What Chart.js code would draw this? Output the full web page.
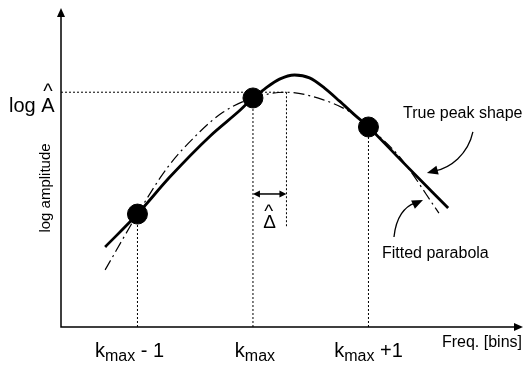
<!DOCTYPE html>
<html>
<head>
<meta charset="utf-8">
<script src="https://cdn.jsdelivr.net/npm/chart.js@4.4.1/dist/chart.umd.min.js"></script>
<style>
  body { margin: 0; background: #fff; }
  canvas { display: block; }
</style>
</head>
<body>
<canvas id="peakChart" width="526" height="367"></canvas>
<script>
// x in bins relative to k_max, y in (arbitrary) log amplitude units
var binTicks = [-1, 0, 1];
var binSuffix = [' - 1', '', ' +1'];
var sampleY = [3.54, 7.18, 6.27];

// true peak shape
var trueX = [-1.28, -1.0, -0.72, -0.37, -0.11, 0, 0.10, 0.23, 0.36, 0.49, 0.62, 0.75, 0.88, 1.0, 1.27, 1.69];
var trueY = [2.51, 3.54, 4.70, 5.99, 6.80, 7.18, 7.46, 7.77, 7.90, 7.81, 7.49, 7.08, 6.65, 6.27, 5.27, 3.73];

// fitted parabola
var fitX = [-1.28, -1.0, -0.74, -0.46, -0.26, 0, 0.29, 0.61, 0.84, 1.0, 1.27, 1.61];
var fitY = [1.79, 3.54, 5.0, 6.12, 6.73, 7.18, 7.36, 7.12, 6.74, 6.27, 5.33, 3.57];

var deltaHat = 0.29;
var logAHat = 7.36;
var deltaArrowY = 4.17;
var deltaGuideEnd = 3.15;

var xMin = -1.662, xMax = 2.338;
var yMin = 0, yMax = 10;

var FONT = '"Liberation Sans", Arial, Helvetica, sans-serif';

function xy(xs, ys) {
  return xs.map(function (x, i) { return { x: x, y: ys[i] }; });
}

var dotted = {
  borderColor: '#000',
  borderWidth: 1,
  borderDash: [2, 2],
  pointRadius: 0,
  showLine: true,
  fill: false,
  tension: 0
};

var datasets = [{
  label: 'samples',
  data: xy(binTicks, sampleY),
  pointRadius: 10,
  pointBackgroundColor: '#000',
  pointBorderColor: '#000',
  showLine: false
}, {
  label: 'True peak shape',
  data: xy(trueX, trueY),
  borderColor: '#000',
  borderWidth: 2.8,
  pointRadius: 0,
  showLine: true,
  cubicInterpolationMode: 'monotone'
}, {
  label: 'Fitted parabola',
  data: xy(fitX, fitY),
  borderColor: '#000',
  borderWidth: 1.2,
  borderDash: [11, 4, 2, 4],
  pointRadius: 0,
  showLine: true,
  cubicInterpolationMode: 'monotone'
}];

binTicks.forEach(function (b, i) {
  datasets.push(Object.assign({ data: [{ x: b, y: yMin }, { x: b, y: sampleY[i] }] }, dotted));
});
datasets.push(Object.assign({ data: [{ x: xMin, y: logAHat }, { x: deltaHat, y: logAHat }] }, dotted));
datasets.push(Object.assign({ data: [{ x: deltaHat, y: logAHat }, { x: deltaHat, y: deltaGuideEnd }] }, dotted));

function arrowHead(ctx, tx, ty, fx, fy, len, half) {
  var a = Math.atan2(ty - fy, tx - fx);
  ctx.beginPath();
  ctx.moveTo(tx, ty);
  ctx.lineTo(tx - len * Math.cos(a) + half * Math.sin(a), ty - len * Math.sin(a) - half * Math.cos(a));
  ctx.lineTo(tx - len * Math.cos(a) - half * Math.sin(a), ty - len * Math.sin(a) + half * Math.cos(a));
  ctx.closePath();
  ctx.fill();
}

var sketchPlugin = {
  id: 'sketch',
  beforeDatasetsDraw: function (chart) {
    var ctx = chart.ctx, a = chart.chartArea;
    ctx.save();
    ctx.strokeStyle = '#000';
    ctx.fillStyle = '#000';
    ctx.lineWidth = 1.5;
    ctx.beginPath();
    ctx.moveTo(a.left, a.top + 8);
    ctx.lineTo(a.left, a.bottom);
    ctx.lineTo(a.right - 8, a.bottom);
    ctx.stroke();
    arrowHead(ctx, a.left, a.top, a.left, a.top + 10, 9, 4);
    arrowHead(ctx, a.right, a.bottom, a.right - 10, a.bottom, 9, 4);
    ctx.restore();
  },
  afterDatasetsDraw: function (chart) {
    var ctx = chart.ctx, xs = chart.scales.x, ys = chart.scales.y;
    ctx.save();
    ctx.fillStyle = '#000';
    ctx.strokeStyle = '#000';
    ctx.textBaseline = 'alphabetic';

    // delta double arrow
    var y0 = ys.getPixelForValue(deltaArrowY);
    var xa = xs.getPixelForValue(0), xb = xs.getPixelForValue(deltaHat);
    ctx.lineWidth = 1.5;
    ctx.beginPath();
    ctx.moveTo(xa + 5, y0);
    ctx.lineTo(xb - 5, y0);
    ctx.stroke();
    arrowHead(ctx, xa, y0, xa + 10, y0, 7, 3.5);
    arrowHead(ctx, xb, y0, xb - 10, y0, 7, 3.5);
    var xm = (xa + xb) / 2;
    ctx.textAlign = 'center';
    ctx.font = '19px ' + FONT;
    ctx.fillText('\u0394', xm, y0 + 34);
    ctx.fillText('^', xm - 1, y0 + 23);

    // log A hat label
    ctx.textAlign = 'left';
    ctx.font = '20px ' + FONT;
    var yA = ys.getPixelForValue(logAHat);
    var wLog = ctx.measureText('log ').width;
    var wA = ctx.measureText('A').width;
    ctx.fillText('log ', 9, yA + 20);
    ctx.fillText('A', 9 + wLog, yA + 20);
    ctx.textAlign = 'center';
    ctx.fillText('^', 9 + wLog + wA / 2, yA + 6);

    // k_max tick labels
    var labelShift = [-8, 2, 0];
    var base = chart.chartArea.bottom + 30;
    binTicks.forEach(function (b, i) {
      ctx.font = '20px ' + FONT;
      var wk = ctx.measureText('k').width;
      var ws = ctx.measureText(binSuffix[i]).width;
      ctx.font = '16px ' + FONT;
      var wm = ctx.measureText('max').width;
      var x = xs.getPixelForValue(b) + labelShift[i] - (wk + wm + ws) / 2;
      ctx.textAlign = 'left';
      ctx.font = '20px ' + FONT;
      ctx.fillText('k', x, base);
      ctx.font = '16px ' + FONT;
      ctx.fillText('max', x + wk, base + 4);
      ctx.font = '20px ' + FONT;
      ctx.fillText(binSuffix[i], x + wk + wm, base);
    });

    // axis titles and annotations
    ctx.font = '16px ' + FONT;
    ctx.textAlign = 'right';
    ctx.fillText('Freq. [bins]', 522, 347);
    ctx.textAlign = 'left';
    ctx.fillText('True peak shape', 403, 118);
    ctx.fillText('Fitted parabola', 382, 258);

    ctx.save();
    ctx.translate(50, 188);
    ctx.rotate(-Math.PI / 2);
    ctx.textAlign = 'center';
    ctx.font = '15px ' + FONT;
    ctx.fillText('log amplitude', 0, 0);
    ctx.restore();

    // curved pointer arrows
    ctx.lineWidth = 1.3;
    var t1x = xs.getPixelForValue(1.506), t1y = ys.getPixelForValue(4.83);
    ctx.beginPath();
    ctx.moveTo(t1x + 46, t1y - 41);
    ctx.bezierCurveTo(t1x + 41, t1y - 18, t1x + 23, t1y - 5, t1x + 8, t1y - 2);
    ctx.stroke();
    arrowHead(ctx, t1x, t1y, t1x + 23, t1y - 6, 11, 4.5);

    var t2x = xs.getPixelForValue(1.472), t2y = ys.getPixelForValue(3.98);
    ctx.beginPath();
    ctx.moveTo(t2x - 29, t2y + 37);
    ctx.bezierCurveTo(t2x - 27, t2y + 17, t2x - 18, t2y + 6, t2x - 8, t2y + 3);
    ctx.stroke();
    arrowHead(ctx, t2x, t2y, t2x - 13, t2y + 6, 11, 4.5);

    ctx.restore();
  }
};

new Chart('peakChart', {
  type: 'scatter',
  data: { datasets: datasets },
  options: {
    responsive: false,
    animation: false,
    layout: { autoPadding: false, padding: { left: 61, right: 3, top: 8, bottom: 40 } },
    plugins: { legend: { display: false }, tooltip: { enabled: false } },
    scales: {
      x: { type: 'linear', min: xMin, max: xMax, display: false },
      y: { type: 'linear', min: yMin, max: yMax, display: false }
    }
  },
  plugins: [sketchPlugin]
});
</script>
</body>
</html>
